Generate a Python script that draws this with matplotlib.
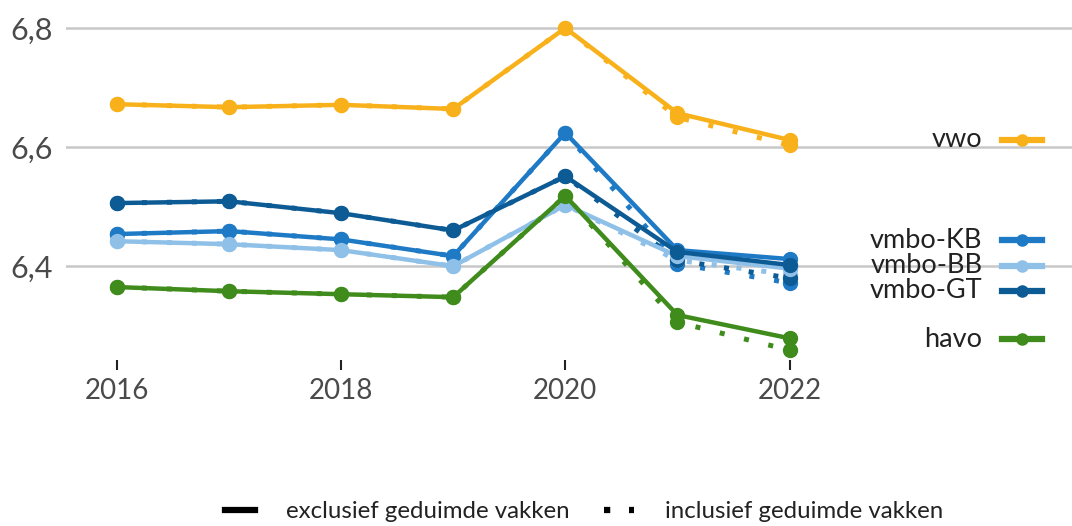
import matplotlib.pyplot as plt
from matplotlib.lines import Line2D

plt.rcParams['font.family'] = ['Lato', 'DejaVu Sans']

years = [2016, 2017, 2018, 2019, 2020, 2021, 2022]

# exclusief geduimde vakken (solid)
vwo = [6.672, 6.667, 6.671, 6.664, 6.800, 6.657, 6.612]
vmbo_kb = [6.454, 6.459, 6.445, 6.417, 6.624, 6.427, 6.412]
vmbo_bb = [6.442, 6.437, 6.427, 6.400, 6.503, 6.417, 6.396]
vmbo_gt = [6.506, 6.509, 6.489, 6.460, 6.551, 6.424, 6.402]
havo = [6.365, 6.358, 6.353, 6.348, 6.518, 6.318, 6.279]

# inclusief geduimde vakken (dotted)
vwo_incl = [6.672, 6.667, 6.671, 6.664, 6.800, 6.650, 6.603]
vmbo_kb_incl = [6.454, 6.459, 6.445, 6.417, 6.624, 6.404, 6.372]
vmbo_bb_incl = [6.442, 6.437, 6.427, 6.400, 6.503, 6.410, 6.386]
vmbo_gt_incl = [6.506, 6.509, 6.489, 6.460, 6.551, 6.410, 6.380]
havo_incl = [6.365, 6.358, 6.353, 6.348, 6.518, 6.306, 6.259]

series = [
    ('vwo', vwo, vwo_incl, '#f9b11b', 6.612),
    ('vmbo-KB', vmbo_kb, vmbo_kb_incl, '#1f7ac6', 6.444),
    ('vmbo-BB', vmbo_bb, vmbo_bb_incl, '#8fc0e8', 6.401),
    ('vmbo-GT', vmbo_gt, vmbo_gt_incl, '#0d5b95', 6.359),
    ('havo', havo, havo_incl, '#3f8b1b', 6.277),
]

fig = plt.figure(figsize=(10.72, 5.26), dpi=100)
ax = fig.add_axes([0.062, 0.315, 0.938, 0.685])

for name, y, y2, c, ly in series:
    ax.plot(years, y2, color=c, lw=3.6, linestyle=(0, (1, 4)),
            dash_capstyle='butt', marker='o', markersize=10, zorder=3)
    ax.plot(years, y, color=c, lw=3.2, marker='o', markersize=10, zorder=4)
    # direct label at the right
    ax.text(2023.72, ly, name, ha='right', va='center', fontsize=19.5,
            color='#222222')
    ax.plot([2023.9, 2024.25], [ly, ly], color=c, lw=4.5, clip_on=False)
    ax.plot([2024.07], [ly], color=c, marker='o', markersize=8,
            clip_on=False)

ax.set_xlim(2015.55, 2024.52)
ax.set_ylim(6.242, 6.847)
ax.set_yticks([6.4, 6.6, 6.8])
ax.set_yticklabels(['6,4', '6,6', '6,8'])
ax.set_xticks([2016, 2018, 2020, 2022])
ax.set_xticklabels(['2016', '2018', '2020', '2022'])
ax.grid(axis='y', color='#c8c8c8', lw=1.8)
ax.set_axisbelow(True)
for s in ax.spines.values():
    s.set_visible(False)
ax.tick_params(axis='y', length=0, labelsize=22, labelcolor='#4a4a4a', pad=10)
ax.tick_params(axis='x', length=7, width=1.5, color='#222222', direction='out',
               labelsize=20, labelcolor='#4a4a4a', pad=6)

handles = [Line2D([], [], color='black', lw=4.5),
           Line2D([], [], color='black', lw=4.5, linestyle=(0, (1, 3)),
                  dash_capstyle='butt')]
fig.legend(handles, ['exclusief geduimde vakken', 'inclusief geduimde vakken'],
           loc='center', bbox_to_anchor=(0.545, 0.027), ncol=2, frameon=False,
           fontsize=17.3, handlelength=1.25, columnspacing=1.4, handletextpad=1.3,
           labelcolor='#222222')

fig.savefig('out.png', dpi=100)
